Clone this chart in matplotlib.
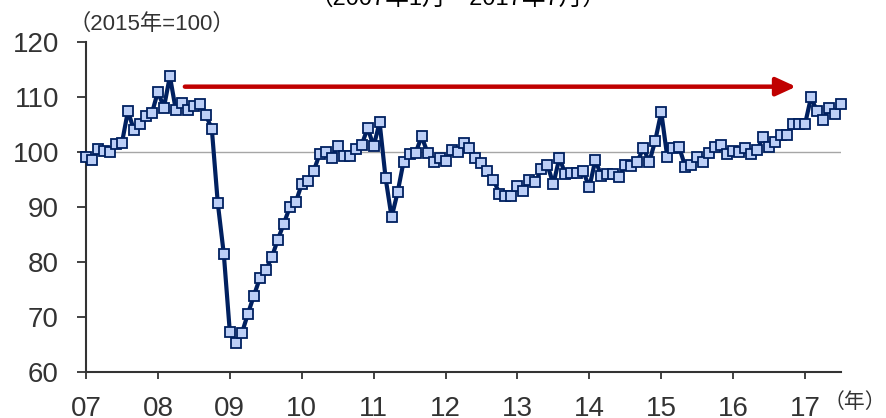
import matplotlib
matplotlib.use("Agg")
import matplotlib.pyplot as plt
import numpy as np

plt.rcParams['font.family'] = ['Liberation Sans', 'Noto Sans CJK JP', 'DejaVu Sans']

# Monthly index, Jan 2007 - Jul 2017 (2015 = 100)
values = [
    99.0, 98.5, 100.4, 100.1, 99.9, 101.4, 101.6, 107.4, 103.9, 105.1, 106.5, 107.0,   # 2007
    110.9, 108.0, 113.7, 107.5, 108.8, 107.5, 108.2, 108.6, 106.7, 104.1, 90.6, 81.4,  # 2008
    67.3, 65.3, 67.0, 70.5, 73.8, 77.0, 78.5, 80.8, 84.0, 86.9, 89.9, 90.8,            # 2009
    94.1, 94.7, 96.5, 99.6, 100.0, 98.9, 101.0, 99.3, 99.2, 100.4, 101.2, 104.3,       # 2010
    101.0, 105.3, 95.2, 88.1, 92.6, 98.2, 99.6, 99.7, 102.8, 99.8, 98.1, 98.9,         # 2011
    98.3, 100.3, 99.9, 101.5, 100.6, 98.8, 97.9, 96.5, 94.9, 92.4, 92.0, 92.0,         # 2012
    93.8, 92.9, 94.8, 94.5, 96.8, 97.6, 94.1, 98.9, 95.9, 96.2, 96.2, 96.4,            # 2013
    93.5, 98.5, 95.6, 95.9, 95.9, 95.4, 97.5, 97.4, 98.1, 100.7, 98.1, 102.0,          # 2014
    107.2, 99.1, 100.7, 100.8, 97.3, 97.5, 99.1, 98.2, 99.8, 100.8, 101.2, 99.6,       # 2015
    100.1, 100.0, 100.7, 99.6, 100.3, 102.7, 100.8, 101.8, 103.1, 103.1, 105.0, 105.0, # 2016
    105.0, 109.9, 107.3, 105.8, 107.9, 106.9, 108.7,                                   # 2017
]
year_labels = ['07', '08', '09', '10', '11', '12', '13', '14', '15', '16', '17']
y_ticks = [60, 70, 80, 90, 100, 110, 120]
reference_level = 100
# arrow (months since Jan 2007, index level)
arrow_start = 16.5
arrow_end = 118.5
arrow_level = 111.8

months = np.arange(len(values))

fig = plt.figure(figsize=(8.86, 4.18), dpi=100)
ax = fig.add_axes([86/886, 1 - 372/418, (841-86)/886, (372-41.5)/418])

ax.axhline(reference_level, color='#A6A6A6', lw=1.0, zorder=1)

ax.plot(months, values, color='#002060', lw=3.0, marker='s', markersize=7.2,
        markerfacecolor='#BCCFF7', markeredgecolor='#002060', markeredgewidth=1.3,
        clip_on=False, zorder=3)

ax.annotate('', xy=(arrow_end, arrow_level), xytext=(arrow_start, arrow_level),
            arrowprops=dict(arrowstyle='-|>,head_length=1.2,head_width=0.55',
                            color='#C00000', lw=3.2, shrinkA=0, shrinkB=0),
            zorder=4)

ax.set_xlim(0, len(values) - 1)
ax.set_ylim(60, 120)
ax.set_xticks(np.arange(len(year_labels)) * 12)
ax.set_xticklabels(year_labels)
ax.set_yticks(y_ticks)

for s in ['top', 'right']:
    ax.spines[s].set_visible(False)
for s in ['left', 'bottom']:
    ax.spines[s].set_color('#333333')
    ax.spines[s].set_linewidth(1.5)

ax.tick_params(axis='y', direction='out', length=6.5, width=1.3, color='#333333',
               pad=13, labelsize=20, labelcolor='#333333')
ax.tick_params(axis='x', direction='out', length=5, width=1.3, color='#333333',
               pad=12, labelsize=20, labelcolor='#333333')

fig.text(68/886, 1 - 24/418, '（2015年=100）', fontsize=16, color='#333333',
         ha='left', va='center')
fig.text(1.0, 1 - 402/418, '（年）', fontsize=15, color='#333333',
         ha='right', va='center')
fig.text(458/886, 1 - 5/418, '（2007年1月～2017年7月）', fontsize=17, color='#000000',
         ha='center', va='baseline')

fig.savefig('out.png', dpi=100)
